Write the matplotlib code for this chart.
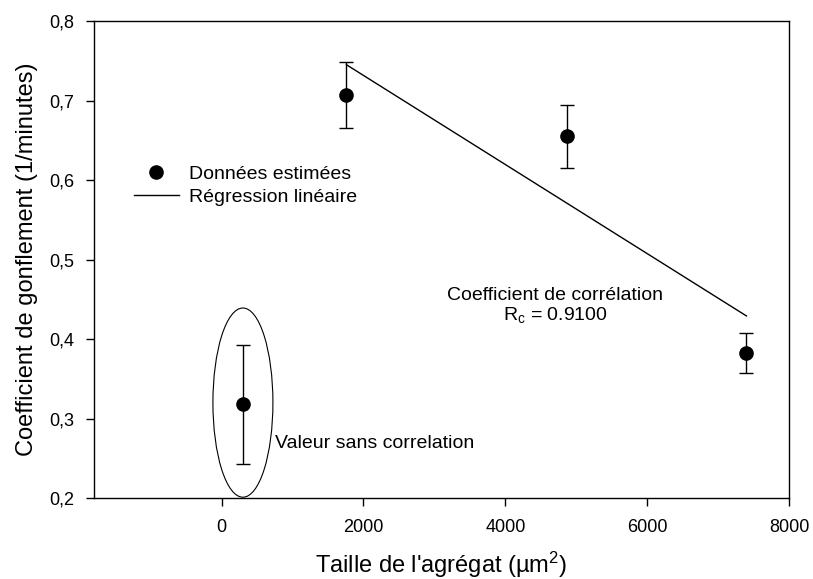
import matplotlib.pyplot as plt
from matplotlib.patches import Ellipse

plt.rcParams['font.family'] = ['Liberation Sans', 'DejaVu Sans']
plt.rcParams['mathtext.fontset'] = 'custom'
plt.rcParams['mathtext.rm'] = 'Liberation Sans'
plt.rcParams['mathtext.it'] = 'Liberation Sans:italic'

# data
taille = [300, 1760, 4870, 7400]
coef = [0.318, 0.707, 0.655, 0.382]
err_bas = [0.243, 0.665, 0.615, 0.357]
err_haut = [0.392, 0.748, 0.694, 0.407]

reg_x = [1760, 7400]
reg_y = [0.745, 0.429]

x_ticks = [0, 2000, 4000, 6000, 8000]
y_ticks = [0.2, 0.3, 0.4, 0.5, 0.6, 0.7, 0.8]
y_labels = ['0,2', '0,3', '0,4', '0,5', '0,6', '0,7', '0,8']

# outlier circled in the plot
ellipse_centre = (300, 0.32)
ellipse_w = 846
ellipse_h = 0.238

fig = plt.figure(figsize=(8.13, 5.79), dpi=100)
ax = fig.add_axes([0.1156, 0.1399, 0.8549, 0.8238])

yerr = [[c - b for c, b in zip(coef, err_bas)], [h - c for c, h in zip(coef, err_haut)]]
ax.errorbar(taille, coef, yerr=yerr, fmt='none', ecolor='black', elinewidth=1.0,
            capsize=5.3, capthick=1.0)
ax.plot(taille, coef, 'o', color='black', markersize=9.5, label='Données estimées')
ax.plot(reg_x, reg_y, '-', color='black', linewidth=1.0, label='Régression linéaire')

ax.add_patch(Ellipse(ellipse_centre, ellipse_w, ellipse_h, fill=False,
                     edgecolor='black', linewidth=0.8))

ax.text(4704, 0.455, 'Coefficient de corrélation', ha='center', va='center', fontsize=14)
ax.text(4704, 0.430, r'R$_\mathrm{c}$ = 0.9100', ha='center', va='center', fontsize=14)
ax.text(757, 0.269, 'Valeur sans correlation', ha='left', va='center', fontsize=14)

ax.set_xlim(-1800, 8000)
ax.set_ylim(0.2, 0.8)
ax.set_xticks(x_ticks)
ax.set_xticklabels([str(v) for v in x_ticks])
ax.set_yticks(y_ticks)
ax.set_yticklabels(y_labels)
ax.tick_params(direction='out', length=6, width=1.0, labelsize=13)
ax.tick_params(axis='x', pad=9)
ax.tick_params(axis='y', pad=8)

for s in ax.spines.values():
    s.set_linewidth(1.0)

ax.set_xlabel("Taille de l'agrégat (µm$^\\mathrm{2}$)", fontsize=17, labelpad=10)
ax.set_ylabel('Coefficient de gonflement (1/minutes)', fontsize=17, labelpad=8)

ax.legend(loc='upper left', bbox_to_anchor=(0.0576, 0.698), frameon=False,
          fontsize=14, handlelength=2.3, handletextpad=0.55, labelspacing=0.3,
          borderpad=0, borderaxespad=0)

plt.savefig('out.png', dpi=100)
